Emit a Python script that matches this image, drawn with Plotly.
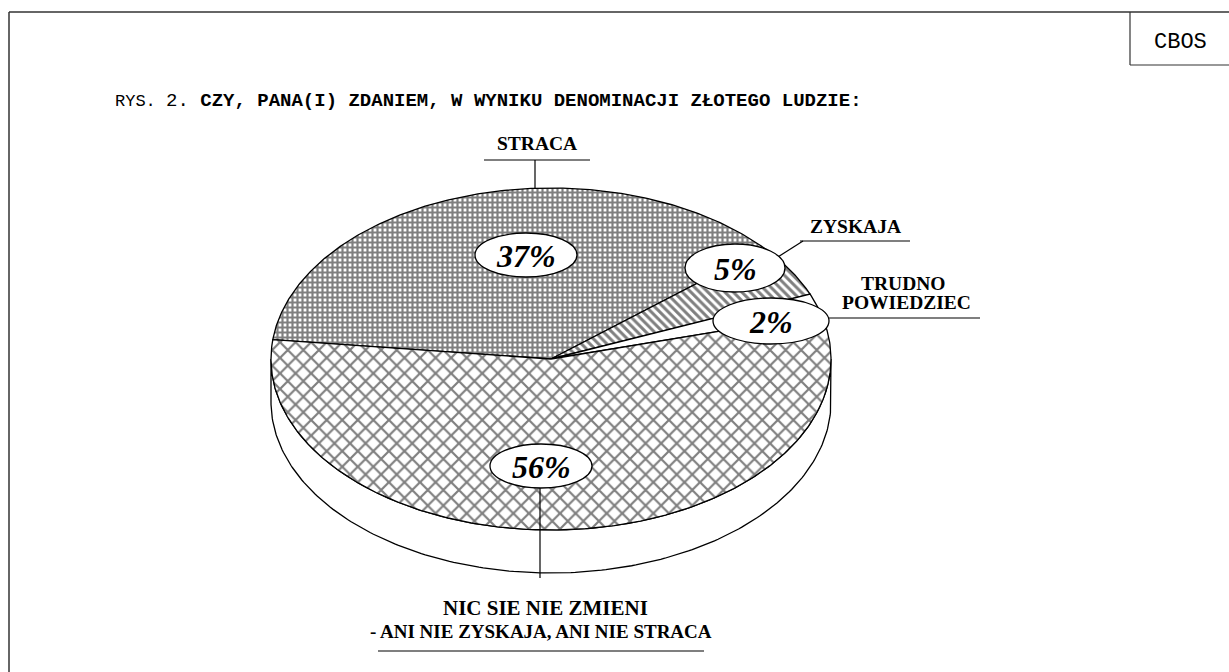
import numpy as np
import plotly.graph_objects as go

# ---------------- data ----------------
categories = ["STRACA", "ZYSKAJA", "TRUDNO POWIEDZIEC",
              "NIC SIE NIE ZMIENI - ANI NIE ZYSKAJA, ANI NIE STRACA"]
values = [37, 5, 2, 56]
label_lines = [["STRACA"], ["ZYSKAJA"], ["TRUDNO", "POWIEDZIEC"],
               ["NIC SIE NIE ZMIENI", "- ANI NIE ZYSKAJA, ANI NIE STRACA"]]
title_prefix = "RYS."
title_number = "2."
title_text = "CZY, PANA(I) ZDANIEM, W WYNIKU DENOMINACJI ZŁOTEGO LUDZIE:"
source_text = "CBOS"

# ---------------- styles / layout ----------------
W, H = 1229, 672
CX, CY, RX, RY, DEPTH = 551, 359, 280, 171, 43
START_DEG = 173.5  # parametric angle where the first slice starts (clockwise)
patterns = [
    dict(shape="+", size=5, solidity=0.68, fgcolor="black", bgcolor="white"),
    dict(shape="\\", size=6, solidity=0.5, fgcolor="black", bgcolor="white"),
    None,
    dict(shape="x", size=11, solidity=0.36, fgcolor="black", bgcolor="white"),
]
pct_boxes = [  # centre x, centre y, rx, ry of the white percent ovals
    (526, 255, 51, 22),
    (735, 268, 50, 24),
    (771, 321, 58, 23),
    (541, 466, 51, 22),
]
label_sizes = [[19.5], [19.5], [19.5, 19.5], [21, 19]]
serif = "Liberation Serif"
mono = "Liberation Mono"

def ell(t_deg, dy=0.0):
    t = np.radians(t_deg)
    return CX + RX * np.cos(t), CY - RY * np.sin(t) + dy

fig = go.Figure()

# side wall (front half of the disc)
tt = np.linspace(180, 360, 200)
xt, yt = ell(tt)
xb, yb = ell(tt[::-1], DEPTH)
fig.add_trace(go.Scatter(
    x=np.concatenate([xt, xb, xt[:1]]), y=np.concatenate([yt, yb, yt[:1]]),
    mode="lines", fill="toself", fillcolor="white",
    line=dict(color="black", width=1.3), hoverinfo="skip", showlegend=False))

# top slices
total = float(sum(values))
a0 = START_DEG
for cat, v, pat in zip(categories, values, patterns):
    a1 = a0 - 360.0 * v / total
    ts = np.linspace(a0, a1, max(int(abs(a1 - a0)) * 2, 8))
    xs, ys = ell(ts)
    px = np.concatenate([[CX], xs, [CX]])
    py = np.concatenate([[CY], ys, [CY]])
    kw = dict(fillpattern=pat) if pat else {}
    fig.add_trace(go.Scatter(
        x=px, y=py, mode="lines", fill="toself", fillcolor="white",
        line=dict(color="black", width=1.3), name=cat,
        hoverinfo="name", showlegend=False, **kw))
    a0 = a1

shapes = []
annotations = []

# frame
shapes += [
    dict(type="line", x0=9, y0=12, x1=W, y1=12, line=dict(color="#333", width=1.5)),
    dict(type="line", x0=9, y0=12, x1=9, y1=H, line=dict(color="#333", width=1.5)),
    dict(type="line", x0=1130, y0=12, x1=1130, y1=65, line=dict(color="#333", width=1.2)),
    dict(type="line", x0=1130, y0=65, x1=W, y1=65, line=dict(color="#333", width=1.2)),
]
annotations.append(dict(x=1180, y=42, text=source_text, showarrow=False,
                        font=dict(family=mono, size=22, color="black")))

# title
annotations.append(dict(
    x=113, y=101, xanchor="left", yanchor="middle", showarrow=False,
    text=(f"<span style='font-size:17px'>{title_prefix} </span>"
          f"<span style='font-size:19px'>{title_number}</span> <b>{title_text}</b>"),
    font=dict(family=mono, size=19, color="black")))

# leader lines & underlines
lw = dict(color="black", width=1.2)
leaders = [
    [(484, 160, 590, 160), (535, 160, 535, 188)],
    [(800, 241, 910, 241), (770, 262, 803, 241)],
    [(822, 318, 980, 318)],
    [(378, 651, 704, 651), (540, 488, 540, 578)],
]
for segs in leaders:
    for (x0, y0, x1, y1) in segs:
        shapes.append(dict(type="line", x0=x0, y0=y0, x1=x1, y1=y1, line=lw))

# category labels
label_pos = [
    [(537, 143)],
    [(855, 226)],
    [(903, 283), (906, 302)],
    [(545, 608), (541, 631)],
]
for lines, poss, sizes in zip(label_lines, label_pos, label_sizes):
    for txt, (x, y), fs in zip(lines, poss, sizes):
        annotations.append(dict(x=x, y=y, text=f"<b>{txt}</b>", showarrow=False,
                                font=dict(family=serif, size=fs, color="black")))

# percent ovals
for v, (x, y, rx, ry) in zip(values, pct_boxes):
    shapes.append(dict(type="circle", x0=x - rx, x1=x + rx, y0=y - ry, y1=y + ry,
                       fillcolor="white", line=dict(color="black", width=1.3)))
    annotations.append(dict(x=x, y=y + 1, text=f"<b><i>{v}%</i></b>", showarrow=False,
                            font=dict(family=serif, size=32, color="black")))

fig.update_layout(
    width=W, height=H, margin=dict(l=0, r=0, t=0, b=0),
    paper_bgcolor="white", plot_bgcolor="white",
    xaxis=dict(range=[0, W], visible=False, fixedrange=True),
    yaxis=dict(range=[H, 0], visible=False, fixedrange=True),
    shapes=shapes, annotations=annotations, showlegend=False,
)
fig.write_html(
    "out.html",
    config={"displayModeBar": False},
    post_script="document.body.style.margin='0';document.body.style.overflow='hidden';",
)
